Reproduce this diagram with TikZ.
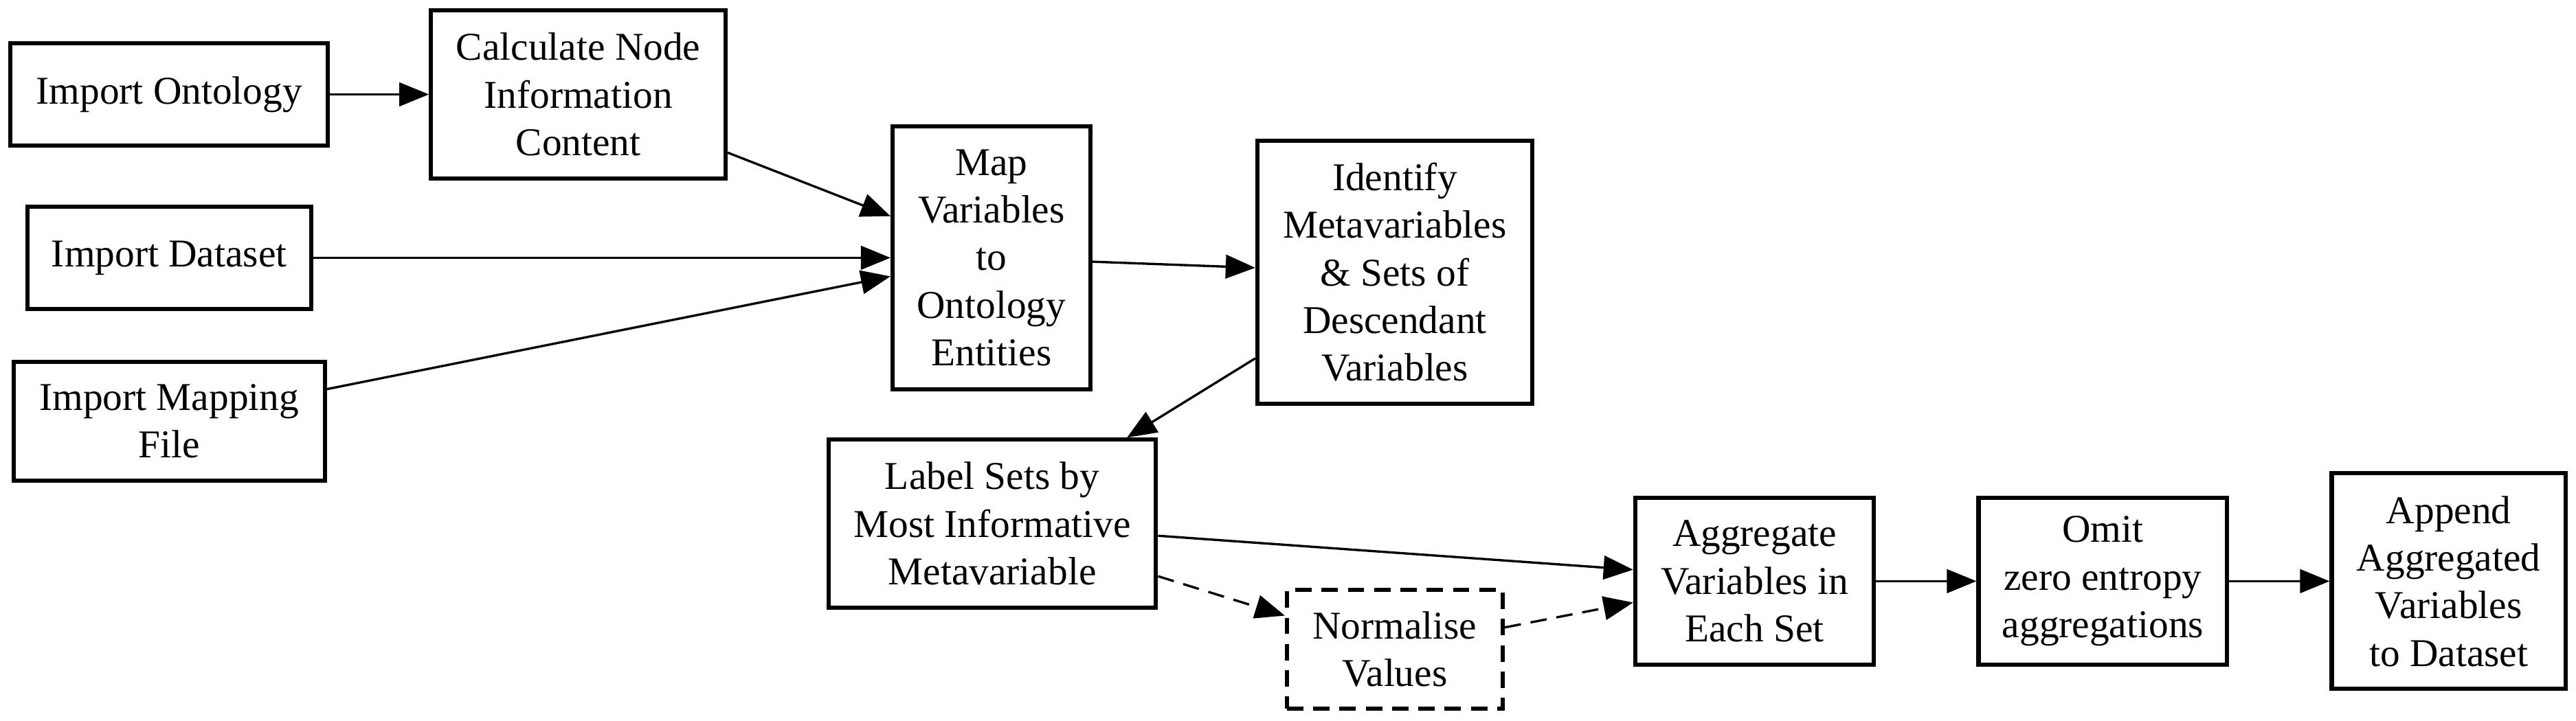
\documentclass[tikz,border=0pt]{standalone}
\usepackage{fontspec}
\setmainfont{Liberation Serif}
\usetikzlibrary{arrows.meta}
\newcommand\boxfont{\fontsize{18}{21.75}\selectfont}
\tikzset{
  box/.style={draw, line width=1.9pt, inner sep=0pt, align=center, font=\boxfont, rectangle},
  dbox/.style={box, dash pattern=on 7.5pt off 4.5pt},
  conn/.style={-{Triangle[length=13.5pt,width=10.8pt]}, line width=1.05pt},
  dconn/.style={conn, dash pattern=on 7.5pt off 4.5pt}
}
\begin{document}
\begin{tikzpicture}[x=0.75pt,y=-0.75pt]
\useasboundingbox (0,0) rectangle (1568,439.1);
\node[box, minimum width=145pt, minimum height=46.8pt] (ont) at (103,57.5) {Import Ontology};
\node[box, minimum width=134.5pt, minimum height=76.8pt] (calc) at (352,57.5) {Calculate Node\\Information\\Content};
\node[box, minimum width=129.6pt, minimum height=46.8pt] (data) at (103,157) {Import Dataset};
\node[box, minimum width=142pt, minimum height=54.3pt] (mapf) at (103,256.5) {Import Mapping\\File};
\node[box, minimum width=90.3pt, minimum height=120.3pt] (map) at (603.5,157) {Map\\Variables\\to\\Ontology\\Entities};
\node[box, minimum width=125.5pt, minimum height=120pt] (ident) at (849,165.75) {Identify\\Metavariables\\\& Sets of\\Descendant\\Variables};
\node[box, minimum width=149.5pt, minimum height=76.8pt] (label) at (604,319) {Label Sets by\\Most Informative\\Metavariable};
\node[dbox, minimum width=98.5pt, minimum height=54.3pt] (norm) at (849,395.5) {Normalise\\Values};
\node[box, minimum width=109pt, minimum height=76pt] (agg) at (1068,354) {Aggregate\\Variables in\\Each Set};
\node[box, minimum width=113.5pt, minimum height=76pt] (omit) at (1280,354) {Omit\\zero entropy\\aggregations};
\node[box, minimum width=106.8pt, minimum height=98.5pt] (app) at (1490.5,354) {Append\\Aggregated\\Variables\\to Dataset};

\draw[conn] (ont.east) -- (calc.west);
\draw[conn] ([yshift=-26.6pt]calc.east) -- ([yshift=19pt]map.west);
\draw[conn] (data.east) -- (map.west);
\draw[conn] ([yshift=14.6pt]mapf.east) -- ([yshift=-8.5pt]map.west);
\draw[conn] ([yshift=-1.8pt]map.east) -- ([yshift=2pt]ident.west);
\draw[conn] ([yshift=-39.4pt]ident.west) -- ([xshift=61.5pt]label.north);
\draw[conn] ([yshift=-5.5pt]label.east) -- ([yshift=5.25pt]agg.west);
\draw[dconn] ([yshift=-24pt]label.east) -- ([yshift=15.4pt]norm.west);
\draw[dconn] ([yshift=10pt]norm.east) -- ([yshift=-9.75pt]agg.west);
\draw[conn] (agg.east) -- (omit.west);
\draw[conn] (omit.east) -- (app.west);
\end{tikzpicture}
\end{document}
